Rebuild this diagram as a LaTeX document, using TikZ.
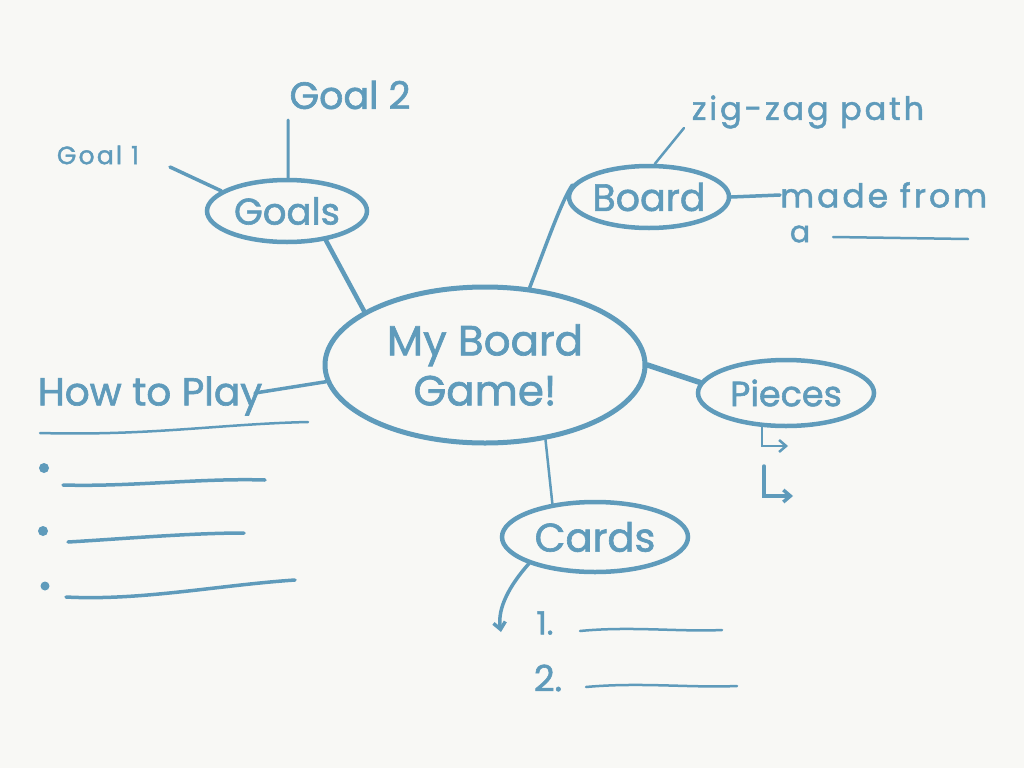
\documentclass[tikz,border=0pt]{standalone}
\usepackage{fontspec}
\setmainfont{Poppins}[FakeBold=1.6,BoldFont=Poppins]
\usetikzlibrary{shapes.geometric,arrows.meta}
\definecolor{ink}{RGB}{95,155,187}
\definecolor{paper}{RGB}{248,248,245}
\begin{document}
\begin{tikzpicture}[x=1pt,y=-1pt,
  bubble/.style={ellipse, draw=ink, line width=4.5pt, inner sep=0pt, text=ink, align=center},
  lbl/.style={text=ink, inner sep=0pt},
  con/.style={draw=ink, line width=3.5pt, line cap=round},
  pen/.style={draw=ink, line width=2.5pt, line cap=round},
  fsz/.style={font=\fontsize{#1}{#1}\selectfont\bfseries},
  wide/.style={font=\fontsize{#1}{#1}\selectfont\bfseries\addfontfeature{LetterSpace=9}},
  tip/.style={-{Straight Barb[length=7pt,width=12pt]}}
]
\fill[paper] (0,0) rectangle (1024,768);
\useasboundingbox (0,0) rectangle (1024,768);

% central node and bubbles
\node[bubble, line width=5pt, minimum width=320pt, minimum height=156pt, font=\fontsize{42}{50}\selectfont\bfseries] (main) at (485,365) {My Board\\Game!};
\node[bubble, minimum width=160pt, minimum height=62pt, fsz=37] (goals) at (287,211) {Goals};
\node[bubble, minimum width=156pt, minimum height=62pt, fsz=38] (board) at (649,197) {Board};
\node[bubble, minimum width=176pt, minimum height=66pt, fsz=35] (pieces) at (786,393) {Pieces};
\node[bubble, minimum width=186pt, minimum height=70pt, fsz=40] (cards) at (595,537) {Cards};

% labels
\node[lbl, fsz=38] (goal2) at (350,95) {Goal 2};
\node[lbl, wide=25] (goal1) at (98,155) {Goal 1};
\node[lbl, wide=32] (zig) at (808,112) {zig-zag path};
\node[lbl, wide=33, anchor=west] (made) at (780,195) {made from};
\node[lbl, fsz=30] (a) at (800,234) {a};
\node[lbl, fsz=39] (howto) at (150,396) {How to Play};
\node[lbl, fsz=32] (one) at (545,623) {1.};
\node[lbl, fsz=36] (two) at (548,678) {2.};

% free ends
\coordinate (g2end) at (288,120);
\coordinate (g1end) at (170,167);
\coordinate (zigend) at (684,128);
\coordinate (howend) at (255,393);

% connectors
\draw[con, line width=4.5pt] (goals.-37) -- (main.156);
\draw[pen, line width=3pt] (goals.88) -- (g2end);
\draw[con] (goals.163) -- (g1end);
\draw[con] (main.60) .. controls (548,240) and (562,200) .. (board.171);
\draw[pen] (board.80) -- (zigend);
\draw[con] (board.east) -- (made.west);
\draw[con, line width=5.5pt] (main.east) -- (pieces.173);
\draw[pen] (main.-51) -- (cards.142);
\draw[con] (main.186) -- (howend);

% pieces arrows
\draw[pen, tip] (pieces.-125) |- (788,446);
\draw[con, tip] (764,466) |- (793,496);

% cards arrow and list
\draw[con, tip] (cards.-158) .. controls (510,585) and (497,608) .. (501,632);
\draw[pen] (580,631) .. controls (630,626) and (680,632) .. (722,630);
\draw[pen] (586,687) .. controls (640,682) and (690,688) .. (737,686);

% made from a ____
\draw[pen] (833,237) -- (968,239);

% how to play list
\draw[pen] (40,433) .. controls (150,436) and (220,424) .. (308,422);
\fill[ink] (44,468) circle (5);
\fill[ink] (43,531) circle (5);
\fill[ink] (45,586) circle (4.5);
\draw[con] (63,485) .. controls (130,487) and (200,478) .. (265,480);
\draw[con] (68,542) .. controls (120,539) and (190,533) .. (244,533);
\draw[con] (66,597) .. controls (140,601) and (220,585) .. (295,580);
\end{tikzpicture}
\end{document}
